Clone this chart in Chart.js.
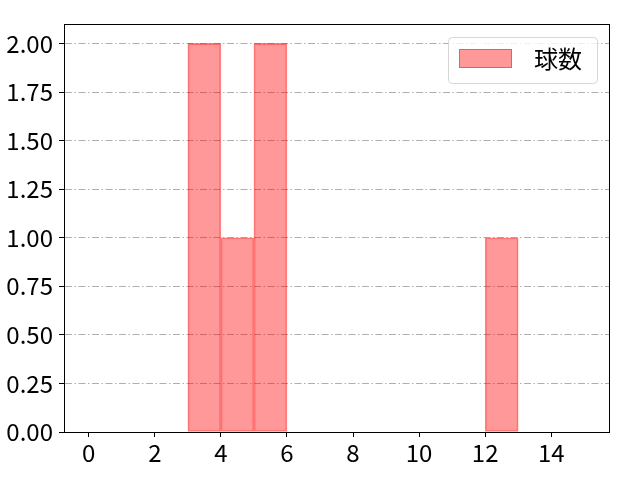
<!DOCTYPE html>
<html>
<head>
<meta charset="utf-8">
<script src="https://cdn.jsdelivr.net/npm/chart.js@4.4.0/dist/chart.umd.min.js"></script>
<style>
  body { margin: 0; background: #fff; }
  canvas { display: block; }
</style>
</head>
<body>
<canvas id="pitchChart" width="640" height="480"></canvas>
<script>
// histogram bins (left edge, width 1) and counts
var binStarts = [3, 4, 5, 12];
var counts = [2, 1, 2, 1];
var xTicks = [0, 2, 4, 6, 8, 10, 12, 14];
var yTicks = [0, 0.25, 0.5, 0.75, 1, 1.25, 1.5, 1.75, 2];
var seriesLabel = '球数';

var fontFamily = '"Noto Sans CJK JP", "DejaVu Sans", sans-serif';

// top and right spines + framed legend like matplotlib
var framePlugin = {
    id: 'frame',
    afterDraw: function(chart) {
        var ctx = chart.ctx;
        var a = chart.chartArea;
        ctx.save();
        ctx.strokeStyle = '#000';
        ctx.lineWidth = 1;
        ctx.strokeRect(a.left + 0.5, a.top + 0.5, a.right - a.left, a.bottom - a.top);

        // legend
        var ds = chart.data.datasets[0];
        var w = 149, h = 46;
        var x = a.right - 12 - w, y = a.top + 13;
        ctx.beginPath();
        ctx.roundRect(x + 0.5, y + 0.5, w, h, 4);
        ctx.fillStyle = 'rgba(255,255,255,0.8)';
        ctx.fill();
        ctx.strokeStyle = '#d6d6d6';
        ctx.stroke();
        ctx.fillStyle = ds.backgroundColor;
        ctx.fillRect(x + 11, y + 12, 53, 19);
        ctx.strokeStyle = ds.borderColor;
        ctx.strokeRect(x + 11.5, y + 12.5, 52, 18);
        ctx.fillStyle = '#000';
        ctx.font = '24px ' + fontFamily;
        ctx.textBaseline = 'middle';
        ctx.fillText(ds.label, x + 86, y + 22);
        ctx.restore();
    }
};

var g = document.getElementById('pitchChart').getContext('2d');

var pitchChart = new Chart(g, {
    type: 'bar',
    data: {
        datasets: [{
            label: seriesLabel,
            data: binStarts.map(function(b, i) { return { x: b + 0.5, y: counts[i] }; }),
            backgroundColor: 'rgba(255, 0, 0, 0.4)',
            borderColor: 'rgba(255, 0, 0, 0.45)',
            borderWidth: 1,
            borderSkipped: false,
            barPercentage: 1,
            categoryPercentage: 1
        }]
    },
    options: {
        responsive: false,
        animation: false,
        devicePixelRatio: 1,
        layout: { padding: { top: 24, right: 31, left: 0, bottom: 0 } },
        plugins: {
            legend: { display: false },
            tooltip: { enabled: false }
        },
        scales: {
            x: {
                type: 'linear',
                min: -0.75,
                max: 15.75,
                offset: false,
                afterBuildTicks: function(s) { s.ticks = xTicks.map(function(v) { return { value: v }; }); },
                afterFit: function(s) { s.height = 48; },
                grid: {
                    offset: false,
                    drawOnChartArea: false,
                    drawTicks: true,
                    tickLength: 5,
                    tickColor: '#000'
                },
                border: { display: true, color: '#000', width: 1 },
                ticks: {
                    color: '#000',
                    padding: 1,
                    maxRotation: 0,
                    font: { family: fontFamily, size: 24 }
                }
            },
            y: {
                min: 0,
                max: 2.1,
                z: 1,
                afterBuildTicks: function(s) { s.ticks = yTicks.map(function(v) { return { value: v }; }); },
                afterFit: function(s) { s.width = 64; },
                grid: {
                    color: '#b0b0b0',
                    lineWidth: 1,
                    drawTicks: true,
                    tickLength: 5,
                    tickColor: '#000',
                    tickBorderDash: []
                },
                border: { display: true, color: '#000', width: 1, dash: [7, 2.5, 1.5, 2.5] },
                ticks: {
                    color: '#000',
                    padding: 6,
                    font: { family: fontFamily, size: 24 },
                    callback: function(v) { return v.toFixed(2); }
                }
            }
        }
    },
    plugins: [framePlugin]
});
</script>
</body>
</html>
